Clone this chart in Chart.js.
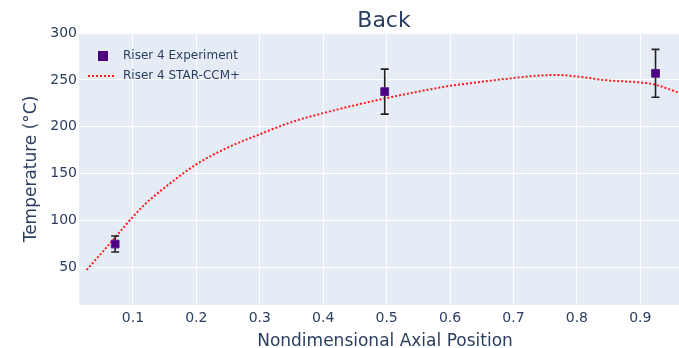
<!DOCTYPE html>
<html>
<head>
<meta charset="utf-8">
<script src="https://cdn.jsdelivr.net/npm/chart.js@4"></script>
<style>
    html, body { margin: 0; padding: 0; background: #fff; }
</style>
</head>
<body>
<canvas id="chart" width="679" height="348"></canvas>
<script>
// experiment points with error bars
const expX = [0.072, 0.497, 0.924];
const expY = [75, 237.5, 257];
const expErr = [8.5, 24, 25.5];

// STAR-CCM+ curve
const simX = [0.027, 0.05, 0.07, 0.1, 0.12, 0.148, 0.2, 0.25, 0.3, 0.35, 0.4, 0.45, 0.5, 0.55, 0.6, 0.65, 0.7, 0.74, 0.77, 0.8, 0.85, 0.9, 0.92, 0.97];
const simY = [47.5, 65, 80.5, 104, 118, 134, 160, 178, 192, 205, 214.6, 223, 230.6, 237.5, 243.7, 248, 252, 254.6, 255.3, 253.6, 249.4, 247.3, 245.5, 234];

const xTicks = [0.1, 0.2, 0.3, 0.4, 0.5, 0.6, 0.7, 0.8, 0.9];
const yTicks = [50, 100, 150, 200, 250, 300];

const textColor = "#2a3f5f";
const fontFamily = "'DejaVu Sans', Verdana, sans-serif";

const plotBg = {
    id: "plotBg",
    beforeDraw(chart) {
        const a = chart.chartArea;
        const ctx = chart.ctx;
        ctx.save();
        ctx.fillStyle = "#E5ECF6";
        ctx.fillRect(a.left, a.top, a.right - a.left, a.bottom - a.top);
        ctx.restore();
    }
};

const errorBars = {
    id: "errorBars",
    beforeDatasetDraw(chart, args) {
        if (args.index !== 0) return;
        const xs = chart.scales.x, ys = chart.scales.y;
        const ctx = chart.ctx;
        ctx.save();
        ctx.strokeStyle = "#222";
        ctx.lineWidth = 1.6;
        for (let i = 0; i < expX.length; i++) {
            const px = xs.getPixelForValue(expX[i]);
            const top = ys.getPixelForValue(expY[i] + expErr[i]);
            const bot = ys.getPixelForValue(expY[i] - expErr[i]);
            ctx.beginPath();
            ctx.moveTo(px, top); ctx.lineTo(px, bot);
            ctx.moveTo(px - 4, top); ctx.lineTo(px + 4, top);
            ctx.moveTo(px - 4, bot); ctx.lineTo(px + 4, bot);
            ctx.stroke();
        }
        ctx.restore();
    }
};

const extras = {
    id: "extras",
    afterDraw(chart) {
        const ctx = chart.ctx;
        const ds = chart.data.datasets;
        ctx.save();
        // title
        ctx.fillStyle = textColor;
        ctx.font = "22px " + fontFamily;
        ctx.textAlign = "center";
        ctx.textBaseline = "alphabetic";
        ctx.fillText("Back", 384, 27);
        // x axis title
        ctx.font = "17px " + fontFamily;
        ctx.fillText("Nondimensional Axial Position", 385, 346);

        // legend
        ctx.font = "12px " + fontFamily;
        ctx.textAlign = "left";
        ctx.textBaseline = "middle";
        ctx.fillStyle = ds[0].backgroundColor;
        ctx.fillRect(98, 51, 10, 10);
        ctx.fillStyle = textColor;
        ctx.fillText(ds[0].label, 123, 56);

        ctx.strokeStyle = ds[1].borderColor;
        ctx.lineWidth = 2;
        ctx.setLineDash(ds[1].borderDash);
        ctx.beginPath();
        ctx.moveTo(88, 76);
        ctx.lineTo(116, 76);
        ctx.stroke();
        ctx.setLineDash([]);
        ctx.fillText(ds[1].label, 123, 76);
        ctx.restore();
    }
};

new Chart(document.getElementById("chart"), {
    type: "scatter",
    data: {
        datasets: [
            {
                label: "Riser 4 Experiment",
                data: expX.map((x, i) => ({ x: x, y: expY[i] })),
                backgroundColor: "#4B0082",
                borderColor: "#5a1a92",
                borderWidth: 1,
                pointStyle: "rect",
                pointRadius: 5.5,
                pointHoverRadius: 5.5
            },
            {
                type: "line",
                label: "Riser 4 STAR-CCM+",
                data: simX.map((x, i) => ({ x: x, y: simY[i] })),
                borderColor: "#ff1a1a",
                borderWidth: 2,
                borderDash: [2, 2],
                pointRadius: 0,
                fill: false,
                cubicInterpolationMode: "monotone"
            }
        ]
    },
    options: {
        responsive: false,
        animation: false,
        events: [],
        layout: { autoPadding: false, padding: { top: 33, left: 0, right: 0, bottom: 0 } },
        plugins: {
            legend: { display: false },
            tooltip: { enabled: false }
        },
        scales: {
            x: {
                type: "linear",
                min: 0.015,
                max: 0.961,
                afterBuildTicks: s => { s.ticks = xTicks.map(v => ({ value: v })); },
                afterFit: s => { s.height = 43; s.paddingLeft = 0; s.paddingRight = 0; },
                grid: { color: "#ffffff", lineWidth: 1, drawTicks: false },
                border: { display: false },
                ticks: {
                    color: textColor,
                    font: { family: fontFamily, size: 14 },
                    padding: 5,
                    maxRotation: 0,
                    callback: v => v.toFixed(1)
                }
            },
            y: {
                min: 10,
                max: 300,
                afterBuildTicks: s => { s.ticks = yTicks.map(v => ({ value: v })); },
                afterFit: s => { s.width = 79; s.paddingTop = 0; s.paddingBottom = 0; },
                grid: { color: "#ffffff", lineWidth: 1, drawTicks: false },
                border: { display: false },
                ticks: {
                    color: textColor,
                    font: { family: fontFamily, size: 14 },
                    padding: 2
                },
                title: {
                    display: true,
                    text: "Temperature (°C)",
                    color: textColor,
                    font: { family: fontFamily, size: 17 },
                    padding: { top: 21, bottom: 0 }
                }
            }
        }
    },
    plugins: [plotBg, errorBars, extras]
});
</script>
</body>
</html>
